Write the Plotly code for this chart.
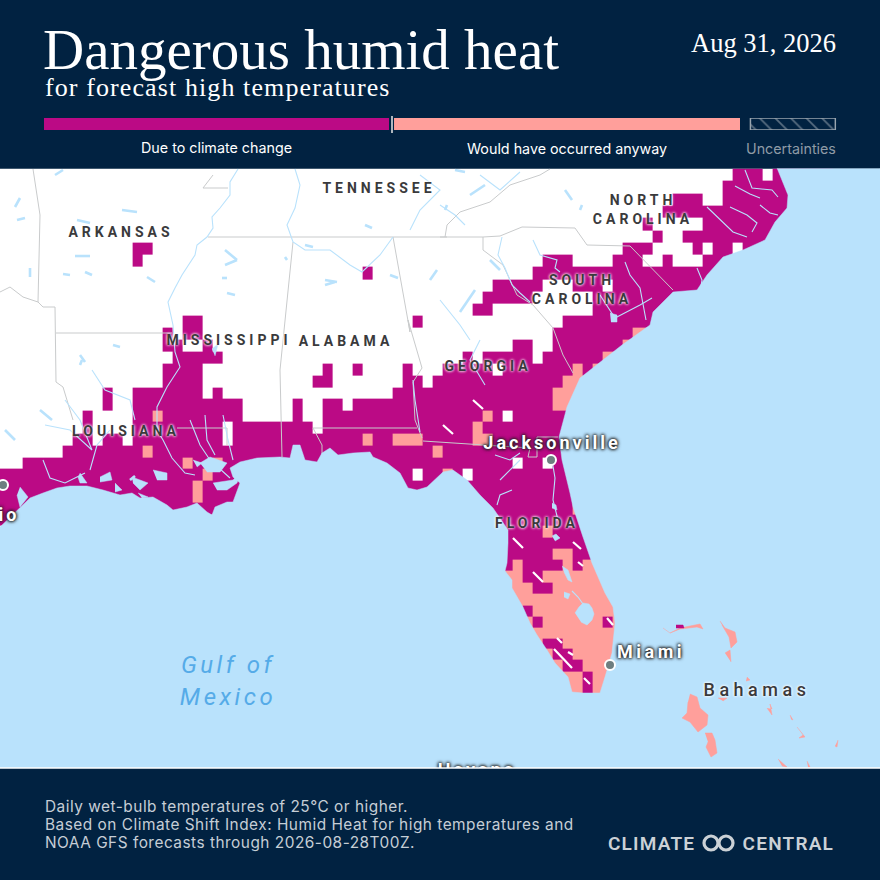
import plotly.graph_objects as go

NAVY = "#012241"
MAGENTA = "#BB0A85"
PINK = "#FF9F9B"
WATER = "#B9E2FC"
BORDER = "#C9CBCC"

# heat grid: one string per row, c = due to climate change, a = would have occurred anyway
HEAT_ROWS = [
    "c74-77 c78-84",
    "c73-84",
    "c68-71 c73-84",
    "c67-84",
    "c65-66 c71-84",
    "c66-67 c69-84",
    "c14-16 c63-66 c70-71 c72-74 c75-79",
    "c14-15 c55-58 c62-65 c67-68 c71-77",
    "c37-38 c54-75",
    "c50-55 c58-61 c62-75",
    "c49-54 c60-75",
    "c48-50 c60-72",
    "c19-21 c42-43 c57-70",
    "c17-18 c19-21 c56-64 a64-67",
    "c17-19 c21-22 c52-54 c56-63 a63-66",
    "c18-23 c47-48 c49-54 c55-61 a61-65",
    "c17-21 c33-34 c36-37 c41-42 c45-50 c51-58 a58-59 c59-60 a60-63",
    "c17-21 c32-34 c41-43 c44-57 a57-62",
    "c11-12 c14-21 c22-23 c40-56 a56-60",
    "c11-12 c14-25 c30-31 c33-35 c36-56 a56-60",
    "c9-10 c14-16 a16-17 c17-25 c30-31 c33-49 a49-50 c50-51 c52-60",
    "c9-10 c14-23 c24-32 c33-48 a48-49 c49-62",
    "c8-10 c11-13 c14-23 c24-37 a37-38 c38-40 a40-43 c43-48 a48-50 c50-62",
    "c7-15 a15-16 c16-44 a44-45 c45-62",
    "c3-19 a19-20 c20-22 a22-23 c23-52 c53-55 c56-62",
    "c0-21 a21-22 c22-42 c43-45 a45-46 c46-47 c48-62",
    "c0-20 a20-21 c21-62",
    "c0-20 a20-21 c21-58 a58-60",
    "c0-58 a58-60",
    "c0-10 c45-60",
    "c45-55 a55-56 c56-60",
    "c45-63",
    "c45-56 a56-58 c58-63",
    "c51-52 a52-53 c53-57 a57-58 c58-59 a59-65",
    "a51-53 c53-55 a55-65",
    "a51-54 c54-56 a56-65",
    "a50-65",
    "a50-53 c53-54 a54-65",
    "a50-54 c54-55 a55-61 c61-62 a62-65",
    "a50-65",
    "a50-55 c55-57 a57-65",
    "a50-56 c56-58 a58-65",
    "a50-57 c57-59 a59-65",
    "a50-59 c59-60 a60-65",
    "a50-59 c59-60 a60-65",
]
# grid edges on the map, rows get shorter going south (mercator)
COL_EDGES = [-7.4 + 10 * i for i in range(86)]
ROW_EDGES = [168.6, 180.9, 193.2, 205.5, 217.8, 230.1, 242.5, 254.8, 267, 279.2, 291.4, 303.5, 315.6,
             327.6, 339.7, 351.7, 363.6, 375.4, 387.2, 399, 410.4, 421.9, 433.5, 445.2, 457.2, 469,
             480.5, 491.6, 503, 514.5, 526, 537.4, 548.8, 559.8, 570.9, 582.5, 594, 605.3, 616.7,
             627.7, 638.4, 649, 660, 671.2, 682.2, 693.5]

COAST = [(0, 527), (10, 517), (20, 508), (30, 498), (43, 493), (57, 488), (70, 486), (87, 486), (103, 490),
         (120, 495), (132, 493), (140, 498), (153, 497), (167, 505), (173, 510), (187, 507), (197, 503),
         (207, 512), (212, 515), (215, 507), (227, 502), (233, 502), (240, 483), (233, 477), (230, 468),
         (240, 462), (257, 458), (280, 457), (290, 458), (293, 445), (300, 445), (305, 460), (317, 462),
         (322, 453), (330, 448), (338, 455), (353, 453), (370, 452), (373, 457), (387, 463), (400, 473),
         (408, 488), (417, 490), (427, 487), (443, 472), (453, 470), (467, 480), (480, 495), (493, 508),
         (508, 530), (508, 543), (507, 563), (505, 571), (512, 580), (512, 588), (523, 607), (530, 623),
         (537, 635), (547, 650), (555, 663), (568, 677), (572, 692), (583, 693), (600, 693), (605, 677),
         (612, 653), (615, 623), (613, 607), (605, 593), (592, 563), (583, 537), (573, 507), (570, 493),
         (562, 460), (559, 437), (567, 407), (580, 378), (600, 362), (622, 345), (650, 325), (653, 312),
         (673, 292), (697, 290), (707, 275), (723, 257), (743, 250), (765, 240), (775, 222), (787, 208),
         (788, 195), (783, 182), (777, 168), (880, 168), (880, 768), (0, 768)]

LAKES = [
    [(20, 487), (28, 497), (20, 507), (17, 495)],
    [(80, 473), (87, 483), (80, 483), (78, 477)],
    [(100, 477), (110, 472), (112, 480), (100, 482)],
    [(115, 483), (122, 490), (115, 492)],
    [(132, 477), (148, 483), (140, 490), (133, 483)],
    [(138, 493), (148, 497), (142, 498)],
    [(153, 470), (167, 473), (167, 480), (157, 480)],
    [(200, 463), (210, 457), (227, 463), (220, 472), (207, 472)],
    [(193, 460), (202, 463), (197, 467)],
    [(213, 483), (233, 480), (240, 473), (237, 483), (227, 490), (217, 490)],
    [(575, 613), (579, 607), (583, 603), (589, 604), (592, 608), (594, 614), (592, 620), (587, 625), (581, 622)],
    [(564, 592), (570, 594), (568, 599), (564, 597)],
    [(562, 566), (568, 570), (572, 582), (568, 580), (564, 572)],
    [(552, 536), (556, 534), (560, 538), (555, 541)],
    [(552, 503), (556, 505), (557, 510), (552, 508)],
    [(610, 313), (617, 315), (617, 322), (611, 322)],
    [(212, 349), (218, 344), (215, 356)],
]
RIVERS = [
    [(238, 169), (230, 182), (230, 195), (220, 208), (212, 217), (213, 228), (207, 237), (197, 245), (195, 255),
     (182, 275), (175, 288), (168, 302), (173, 325), (175, 352), (180, 367), (167, 387), (157, 407), (157, 430),
     (163, 440), (172, 458), (185, 473), (195, 475)],
    [(295, 169), (300, 185), (295, 208), (287, 225), (293, 242), (305, 250), (330, 250), (350, 265), (362, 272),
     (380, 255), (393, 237)],
    [(502, 237), (498, 255), (505, 268), (512, 285), (520, 293), (530, 302)],
    [(533, 240), (540, 255), (557, 260), (555, 268), (560, 272)],
    [(625, 262), (630, 275), (640, 288), (646, 320)],
    [(697, 268), (702, 280), (700, 293)],
    [(707, 207), (720, 220), (733, 232), (747, 237)],
    [(730, 207), (747, 215), (757, 223), (752, 232)],
    [(745, 170), (752, 188), (772, 190), (778, 197)],
    [(735, 186), (750, 194), (760, 198)],
    [(760, 205), (770, 213), (778, 215)],
    [(600, 295), (615, 318), (640, 305), (652, 298)],
    [(65, 400), (80, 420), (92, 450), (70, 430), (45, 425)],
    [(92, 370), (105, 390), (130, 400), (135, 420)],
    [(190, 420), (200, 445), (210, 460), (230, 478)],
    [(205, 415), (207, 440), (215, 455)],
    [(223, 415), (228, 440), (233, 460)],
    [(43, 460), (50, 478), (65, 483), (85, 473)],
    [(90, 470), (97, 445), (110, 430)],
    [(413, 380), (415, 400), (420, 432)],
    [(495, 455), (510, 460), (520, 453)],
    [(552, 460), (555, 478), (553, 500), (558, 520)],
    [(520, 460), (500, 480)],
    [(512, 490), (500, 495), (497, 505)],
    [(420, 175), (440, 190), (420, 210), (410, 230)],
    [(440, 205), (455, 215), (465, 225)],
    [(480, 175), (500, 190), (520, 172)],
    [(440, 300), (460, 325), (470, 340)],
    [(480, 340), (470, 360), (485, 385)],
    [(572, 591), (578, 597), (583, 604)],
]
LAKE_STROKES = [
    [(55, 175), (63, 170)], [(15, 207), (20, 198)], [(17, 220), (25, 218)], [(122, 210), (137, 212)],
    [(77, 220), (90, 223)], [(75, 256), (90, 256)], [(63, 274), (70, 275)], [(85, 272), (92, 275)],
    [(30, 268), (30, 277)], [(147, 277), (155, 282)], [(225, 250), (237, 260)], [(225, 265), (237, 260)],
    [(222, 278), (227, 278)], [(227, 293), (235, 295)], [(285, 257), (287, 260)], [(305, 245), (313, 247)],
    [(325, 280), (337, 282)], [(335, 282), (325, 285)], [(390, 275), (398, 278)], [(430, 280), (437, 270)],
    [(365, 225), (372, 228)], [(455, 170), (465, 172)], [(470, 195), (485, 185)], [(445, 210), (447, 205)],
    [(580, 210), (582, 205)], [(490, 260), (500, 270)], [(565, 190), (572, 200)], [(475, 290), (460, 312)],
    [(80, 355), (85, 362)], [(113, 345), (120, 347)], [(82, 360), (80, 365)], [(5, 430), (15, 440)],
    [(40, 410), (52, 420)], [(130, 480), (135, 476)],
]
BORDERS = [
    [(208, 237), (447, 237)],
    [(33, 169), (40, 215), (38, 302)],
    [(0, 292), (10, 287), (23, 297), (38, 302), (43, 307), (55, 307), (56, 382), (63, 387), (73, 420)],
    [(56, 333), (172, 333)],
    [(213, 175), (203, 188), (228, 188)],
    [(293, 242), (283, 338), (280, 370), (282, 457)],
    [(393, 237), (410, 332), (408, 320), (422, 368), (413, 382), (415, 420), (422, 438)],
    [(313, 428), (417, 428)],
    [(313, 428), (322, 445), (322, 457)],
    [(423, 441), (483, 445), (530, 448), (528, 457), (537, 457), (537, 437), (558, 437)],
    [(483, 250), (503, 265), (517, 295), (533, 305), (553, 328), (563, 355), (573, 373)],
    [(440, 237), (483, 237), (500, 236), (522, 227), (575, 228), (587, 245), (630, 246), (673, 290)],
    [(483, 237), (483, 250)],
    [(445, 237), (447, 225), (460, 212), (490, 202), (510, 185), (540, 175), (550, 169)],
    [(177, 428), (227, 428), (227, 445)],
]
# white strokes: cells with uncertain attribution
HATCH = [
    [(473, 400), (483, 409)], [(443, 425), (453, 434)], [(513, 538), (523, 548)], [(573, 542), (581, 549)],
    [(533, 572), (543, 582)], [(578, 562), (583, 566)], [(607, 618), (613, 625)], [(557, 638), (562, 643)],
    [(554, 649), (572, 668)], [(568, 652), (573, 655)], [(584, 678), (590, 684)],
]
BAHAMAS = [
    [(663, 628), (670, 633), (680, 628), (700, 624), (703, 629), (697, 627), (680, 629), (670, 633)],
    [(720, 621), (725, 628), (735, 632), (737, 642), (731, 648), (729, 637), (722, 625)],
    [(725, 653), (730, 650), (731, 662)],
    [(690, 694), (697, 697), (700, 708), (708, 715), (707, 725), (698, 732), (690, 722), (682, 718), (687, 713), (688, 702)],
    [(705, 733), (712, 733), (715, 740), (717, 753), (711, 757), (706, 747), (708, 742)],
    [(747, 677), (750, 680), (746, 681)],
    [(718, 698), (727, 698), (723, 701)],
    [(767, 708), (772, 715), (770, 704), (772, 709)],
    [(790, 715), (793, 720), (791, 719)],
    [(797, 727), (805, 737), (799, 738), (803, 735)],
    [(838, 740), (837, 747), (835, 746)],
    [(778, 759), (787, 767), (782, 766)],
    [(807, 761), (810, 767), (808, 767)],
]
BAHAMAS_HEAT = [[(676, 625), (683, 625), (684, 628), (676, 628)]]

STATE_NAMES = ["TENNESSEE", "ARKANSAS", "NORTH<br>CAROLINA", "MISSISSIPPI", "ALABAMA",
               "SOUTH<br>CAROLINA", "GEORGIA", "LOUISIANA", "FLORIDA"]
STATE_X = [379, 121, 643, 229, 346, 582, 488, 126, 537]
STATE_Y = [190, 234, 211, 342, 343, 291, 368, 433, 525]
CITY_NAMES = ["Jacksonville", "Miami", "io", "Havana"]
CITY_X = [552, 651, 9, 477]
CITY_Y = [445, 654, 517, 772]
DOT_X = [551, 610, 3]
DOT_Y = [460, 665, 485]

SHARE_NAMES = ["Due to climate change", "Would have occurred anyway"]
SHARE_VALUES = [50, 50]
SHARE_COLORS = [MAGENTA, PINK]
FOOT_LINES = ["Daily wet-bulb temperatures of 25°C or higher.",
              "Based on Climate Shift Index: Humid Heat for high temperatures and",
              "NOAA GFS forecasts through 2026-08-28T00Z."]

SERIF = "Liberation Serif"
SANS = "Inter"
MAP_FONT = "Roboto"
LOGO = "#CBD1D6"


def parse_heat(rows, n_cols):
    z = []
    for row in rows:
        vals = [None] * n_cols
        for tok in row.split():
            a, b = tok[1:].split("-")
            for i in range(int(a), int(b)):
                vals[i] = 1 if tok[0] == "c" else 2
        z.append(vals)
    return z


def join_paths(paths):
    xs, ys = [], []
    for path in paths:
        xs += [p[0] for p in path] + [None]
        ys += [p[1] for p in path] + [None]
    return xs, ys


def note(text, x, y, size, color=NAVY, family=SANS, anchor="left", weight=400):
    return dict(text=text, x=x / 880, y=1 - y / 880, xref="paper", yref="paper", showarrow=False,
                xanchor=anchor, yanchor="middle", align=anchor,
                font=dict(family=family, size=size, color=color, weight=weight))


def ring(cx, cy, r):
    return dict(type="circle", xref="paper", yref="paper", x0=(cx - r) / 880, x1=(cx + r) / 880,
                y0=1 - (cy + r) / 880, y1=1 - (cy - r) / 880, line=dict(color=LOGO, width=3.2))


fig = go.Figure()
fig.add_trace(go.Heatmap(
    z=parse_heat(HEAT_ROWS, len(COL_EDGES) - 1), x=COL_EDGES, y=ROW_EDGES, zmin=1, zmax=2, showscale=False,
    colorscale=[[0, MAGENTA], [0.5, MAGENTA], [0.5, PINK], [1, PINK]], hoverinfo="skip",
))


def add_lines(paths, color, width):
    xs, ys = join_paths(paths)
    fig.add_trace(go.Scatter(x=xs, y=ys, mode="lines", line=dict(color=color, width=width), hoverinfo="skip"))


def add_fill(paths, color):
    xs, ys = join_paths(paths)
    fig.add_trace(go.Scatter(x=xs, y=ys, mode="lines", fill="toself", fillcolor=color,
                             line=dict(color=color, width=0.5), hoverinfo="skip"))


add_lines(HATCH, "white", 2.2)
add_lines(BORDERS, BORDER, 1)
add_lines(RIVERS, WATER, 1.1)
add_lines(LAKE_STROKES, WATER, 2.6)
add_fill([COAST], WATER)
add_fill(LAKES, WATER)
add_fill(BAHAMAS, PINK)
add_fill(BAHAMAS_HEAT, MAGENTA)

fig.add_trace(go.Scatter(x=DOT_X, y=DOT_Y, mode="markers", hoverinfo="skip",
                         marker=dict(size=10, color="#6E7E80", line=dict(color="white", width=2))))
fig.add_trace(go.Scatter(
    x=STATE_X, y=STATE_Y, text=STATE_NAMES, mode="text", hoverinfo="skip",
    textfont=dict(family=MAP_FONT, size=14, color="#3A3A3C", weight=700, shadow="0 0 3px #fff, 0 0 3px #fff"),
))
fig.add_trace(go.Scatter(
    x=CITY_X, y=CITY_Y, text=CITY_NAMES, mode="text", hoverinfo="skip",
    textfont=dict(family=MAP_FONT, size=18, color="white", weight=700,
                  shadow="0 0 3px #222, 0 0 3px #222, 0 0 4px #222"),
))
fig.add_trace(go.Scatter(
    x=[757], y=[692], text=["Bahamas"], mode="text", hoverinfo="skip",
    textfont=dict(family=MAP_FONT, size=18, color="#3A3A3C", weight=500, shadow="0 0 3px #fff, 0 0 3px #fff"),
))
fig.add_trace(go.Scatter(
    x=[228], y=[683], text=["Gulf of<br>Mexico"], mode="text", hoverinfo="skip",
    textfont=dict(family=MAP_FONT, size=24, color="#55ABE8", style="italic"),
))

# legend bar on its own axes, 0-100 covers the two shares
fig.add_trace(go.Bar(x=[SHARE_VALUES[0] - 0.43], base=[0], y=[0], orientation="h", width=1,
                     marker=dict(color=SHARE_COLORS[0], line_width=0), xaxis="x2", yaxis="y2",
                     name=SHARE_NAMES[0], hoverinfo="skip"))
fig.add_trace(go.Bar(x=[SHARE_VALUES[1] - 0.29], base=[SHARE_VALUES[0] + 0.29], y=[0], orientation="h", width=1,
                     marker=dict(color=SHARE_COLORS[1], line_width=0), xaxis="x2", yaxis="y2",
                     name=SHARE_NAMES[1], hoverinfo="skip"))
fig.add_trace(go.Bar(x=[12.2], base=[101.5], y=[0], orientation="h", width=1, xaxis="x2", yaxis="y2",
                     name="Uncertainties", hoverinfo="skip",
                     marker=dict(color=NAVY, line=dict(color="#9AA5AF", width=1.5),
                                 pattern=dict(shape="\\", fgcolor="#AEB8C0", bgcolor=NAVY, size=11, solidity=0.16))))

fig.update_layout(
    width=880, height=880, autosize=False, showlegend=False, barmode="overlay",
    margin=dict(l=0, r=0, t=0, b=0), paper_bgcolor=NAVY, plot_bgcolor=NAVY,
    xaxis=dict(range=[0, 880], domain=[0, 1], visible=False, fixedrange=True),
    yaxis=dict(range=[768, 168.6], domain=[112 / 880, 711.4 / 880], visible=False, fixedrange=True),
    xaxis2=dict(range=[0, 792.5 / 6.96], domain=[44 / 880, 836.5 / 880], anchor="y2", visible=False),
    yaxis2=dict(range=[-0.5, 0.5], domain=[750 / 880, 762 / 880], anchor="x2", visible=False),
    shapes=[
        dict(type="rect", xref="x", yref="y", x0=0, x1=880, y0=168.6, y1=768, layer="below",
             fillcolor="white", line_width=0),
        dict(type="line", xref="paper", yref="paper", x0=392 / 880, x1=392 / 880, y0=1 - 133 / 880, y1=1 - 116 / 880,
             line=dict(color="#E8E8E8", width=1.5)),
        dict(type="line", xref="paper", yref="paper", x0=0, x1=1, y0=1 - 768 / 880, y1=1 - 768 / 880,
             line=dict(color="white", width=1.5)),
        ring(711, 843, 7),
        ring(726, 843, 7),
    ],
    annotations=[
        note("Dangerous humid heat", 41, 50, 57, "white", SERIF),
        note("for forecast high temperatures", 43, 88, 26, "white", SERIF),
        note("Aug 31, 2026", 838, 43, 26.5, "white", SERIF, "right"),
        note(SHARE_NAMES[0], 216.5, 148, 14.3, "white", anchor="center"),
        note(SHARE_NAMES[1], 567, 148, 14.3, "white", anchor="center"),
        note("Uncertainties", 838, 148, 14.3, "#8F9BA6", SANS, "right"),
        note(FOOT_LINES[0], 43, 806, 15.4, "#C6CED6"),
        note(FOOT_LINES[1], 43, 824, 15.4, "#C6CED6"),
        note(FOOT_LINES[2], 43, 842, 15.4, "#C6CED6"),
        note("CLIMATE", 606, 843, 19, LOGO, MAP_FONT, weight=600),
        note("CENTRAL", 836, 843, 19, LOGO, MAP_FONT, "right", weight=600),
    ],
)

# plotly has no letter spacing option, the map labels and header need it
SPACING = """
document.body.style.margin = '0';
var SPREAD = {'Jacksonville': 3, 'Miami': 3.5, 'io': 3, 'Havana': 3, 'Bahamas': 4.5, 'Gulf of': 3.5};
document.querySelectorAll('.textpoint text').forEach(function (t) {
  var s = t.textContent;
  var px = 4;
  for (var k in SPREAD) { if (s.indexOf(k) === 0) { px = SPREAD[k]; } }
  t.style.letterSpacing = px + 'px';
});
document.querySelectorAll('.annotation-text').forEach(function (t) {
  var s = t.textContent;
  if (s.indexOf('for forecast') === 0) { t.style.letterSpacing = '1.1px'; }
  if (s === 'CLIMATE' || s === 'CENTRAL') { t.style.letterSpacing = '1.2px'; }
  if (/^(Daily|Based|NOAA)/.test(s)) { t.style.letterSpacing = '0.5px'; }
});
"""
fig.write_html("out.html", post_script=SPACING, config={"displayModeBar": False})
